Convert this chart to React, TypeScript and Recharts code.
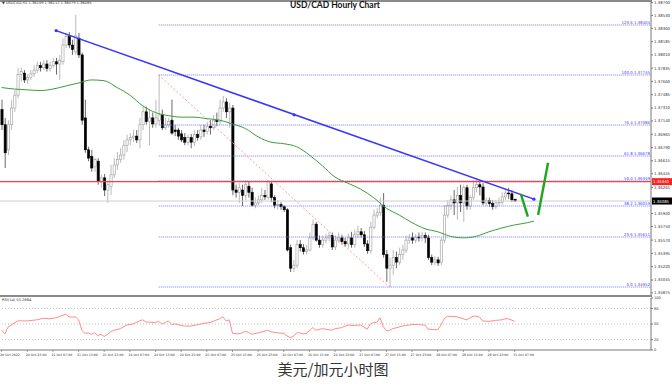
import React from 'react';
import {
  ComposedChart,
  Bar,
  Line,
  XAxis,
  YAxis,
  ReferenceLine,
  ReferenceDot,
} from 'recharts';

// hourly candles [open, high, low, close], bar 0 = 20 Oct 2022 15:00
const candles = [
  [1.3729, 1.3742, 1.3702, 1.3709], // 0
  [1.3709, 1.3718, 1.3652, 1.3672],
  [1.3676, 1.3715, 1.3669, 1.3709],
  [1.3709, 1.3742, 1.3702, 1.3731],
  [1.3731, 1.3755, 1.3726, 1.3748],
  [1.3748, 1.3784, 1.3744, 1.3775], // 5
  [1.3775, 1.3784, 1.3766, 1.3779],
  [1.3777, 1.3781, 1.3764, 1.3768],
  [1.3768, 1.3776, 1.3763, 1.3771],
  [1.3771, 1.3781, 1.3768, 1.3776],
  [1.3776, 1.3787, 1.3772, 1.3781], // 10
  [1.3781, 1.3792, 1.3777, 1.3787],
  [1.3787, 1.3792, 1.3779, 1.3784],
  [1.3784, 1.3794, 1.3781, 1.3789],
  [1.3789, 1.3794, 1.3779, 1.3783],
  [1.3783, 1.3792, 1.3779, 1.3787], // 15
  [1.3787, 1.3797, 1.3784, 1.3792],
  [1.3792, 1.3797, 1.3775, 1.3789],
  [1.3789, 1.3801, 1.3768, 1.3794],
  [1.3792, 1.3823, 1.3788, 1.3814],
  [1.3814, 1.383, 1.381, 1.3825], // 20
  [1.3825, 1.3831, 1.381, 1.3814],
  [1.3814, 1.3821, 1.3801, 1.3808],
  [1.3805, 1.3854, 1.3801, 1.3826],
  [1.3823, 1.383, 1.3797, 1.3801],
  [1.3801, 1.3804, 1.3709, 1.3715], // 25
  [1.3718, 1.3742, 1.3672, 1.3676],
  [1.3676, 1.368, 1.3661, 1.3665],
  [1.3667, 1.3676, 1.3647, 1.3652],
  [1.3654, 1.3665, 1.3647, 1.3663],
  [1.3661, 1.3665, 1.363, 1.3634], // 30
  [1.3634, 1.3643, 1.3626, 1.3639],
  [1.3639, 1.3644, 1.3615, 1.3623],
  [1.3623, 1.3634, 1.3606, 1.363],
  [1.3628, 1.3656, 1.3616, 1.3643],
  [1.3643, 1.3665, 1.3639, 1.3656], // 35
  [1.3656, 1.3673, 1.365, 1.3663],
  [1.3663, 1.3678, 1.3659, 1.3669],
  [1.3669, 1.3689, 1.3663, 1.3682],
  [1.3682, 1.3696, 1.3673, 1.3689],
  [1.3689, 1.3698, 1.3682, 1.3692], // 40
  [1.3692, 1.3702, 1.3686, 1.3694],
  [1.3694, 1.3702, 1.3685, 1.3689],
  [1.3689, 1.3718, 1.3678, 1.3709],
  [1.3709, 1.3734, 1.3702, 1.3726],
  [1.3726, 1.3733, 1.3709, 1.3713], // 45
  [1.3713, 1.3729, 1.3682, 1.3718],
  [1.3718, 1.3725, 1.3705, 1.371],
  [1.371, 1.3742, 1.3705, 1.3718],
  [1.3715, 1.3775, 1.3709, 1.3722],
  [1.3722, 1.3729, 1.3702, 1.3705], // 50
  [1.3705, 1.3718, 1.3702, 1.3709],
  [1.3709, 1.3718, 1.3705, 1.3713],
  [1.3715, 1.3742, 1.3696, 1.3698],
  [1.3702, 1.3709, 1.3694, 1.37],
  [1.3702, 1.3705, 1.3689, 1.3694], // 55
  [1.3697, 1.3702, 1.3686, 1.3689],
  [1.3692, 1.3698, 1.3682, 1.3686],
  [1.3686, 1.3696, 1.3682, 1.3692],
  [1.3692, 1.3697, 1.3678, 1.3686],
  [1.3686, 1.3702, 1.3681, 1.3696], // 60
  [1.3696, 1.3702, 1.3688, 1.3692],
  [1.3693, 1.3709, 1.3689, 1.3702],
  [1.3702, 1.3709, 1.3693, 1.37],
  [1.37, 1.3713, 1.3696, 1.3707],
  [1.3707, 1.3715, 1.3696, 1.3705], // 65
  [1.3705, 1.3722, 1.3702, 1.3715],
  [1.3715, 1.3725, 1.3707, 1.3713],
  [1.3713, 1.3742, 1.3709, 1.3731],
  [1.3731, 1.3747, 1.3726, 1.3739],
  [1.3739, 1.3744, 1.3718, 1.3726], // 70
  [1.3726, 1.3738, 1.3705, 1.3731],
  [1.3731, 1.3735, 1.3616, 1.3623],
  [1.3623, 1.363, 1.3613, 1.362],
  [1.362, 1.3632, 1.3606, 1.3626],
  [1.3623, 1.363, 1.3602, 1.3616], // 75
  [1.3616, 1.3636, 1.361, 1.363],
  [1.3628, 1.3634, 1.3613, 1.362],
  [1.362, 1.3626, 1.3601, 1.3603],
  [1.3603, 1.3613, 1.3599, 1.3606],
  [1.3606, 1.3616, 1.3603, 1.361], // 80
  [1.361, 1.3626, 1.3606, 1.3616],
  [1.3616, 1.3623, 1.361, 1.3614],
  [1.3613, 1.3636, 1.361, 1.3634],
  [1.3631, 1.3634, 1.3607, 1.3613],
  [1.3613, 1.3616, 1.3599, 1.3603], // 85
  [1.3603, 1.361, 1.3597, 1.3604],
  [1.3604, 1.3607, 1.3597, 1.3601],
  [1.3601, 1.3603, 1.3594, 1.3597],
  [1.3597, 1.3599, 1.3542, 1.3544],
  [1.3547, 1.3551, 1.3515, 1.352], // 90
  [1.352, 1.3531, 1.3515, 1.3524],
  [1.3524, 1.3557, 1.352, 1.3551],
  [1.3551, 1.3557, 1.3542, 1.3547],
  [1.3547, 1.3552, 1.3538, 1.3542],
  [1.3542, 1.3551, 1.3538, 1.3544], // 95
  [1.3544, 1.3567, 1.3542, 1.356],
  [1.356, 1.3584, 1.3557, 1.3578],
  [1.3578, 1.3581, 1.3555, 1.3557],
  [1.3557, 1.3563, 1.3547, 1.3551],
  [1.3551, 1.3563, 1.3547, 1.3557], // 100
  [1.3557, 1.3565, 1.3553, 1.356],
  [1.356, 1.3568, 1.3555, 1.3563],
  [1.3563, 1.3567, 1.3544, 1.3548],
  [1.3548, 1.3563, 1.3544, 1.3557],
  [1.3557, 1.3567, 1.3553, 1.356], // 105
  [1.356, 1.3564, 1.3551, 1.3555],
  [1.3555, 1.356, 1.3548, 1.3552],
  [1.3552, 1.3565, 1.3547, 1.356],
  [1.356, 1.3568, 1.3547, 1.3551],
  [1.3551, 1.3571, 1.3547, 1.3564], // 110
  [1.3564, 1.3576, 1.356, 1.3568],
  [1.3568, 1.3573, 1.356, 1.3564],
  [1.3564, 1.3569, 1.3548, 1.3552],
  [1.3552, 1.3557, 1.3539, 1.3543],
  [1.3543, 1.3581, 1.3539, 1.3574], // 115
  [1.3574, 1.3597, 1.3571, 1.359],
  [1.359, 1.3599, 1.3586, 1.3593],
  [1.3593, 1.3613, 1.3589, 1.3603],
  [1.3603, 1.3619, 1.3534, 1.3538],
  [1.3538, 1.3544, 1.3502, 1.352], // 120
  [1.352, 1.3534, 1.3495, 1.3524],
  [1.3524, 1.3544, 1.3511, 1.3534],
  [1.3534, 1.3542, 1.352, 1.3528],
  [1.3528, 1.3547, 1.3524, 1.3538],
  [1.3538, 1.3551, 1.3531, 1.3544], // 125
  [1.3544, 1.3563, 1.354, 1.3557],
  [1.3557, 1.3565, 1.3552, 1.356],
  [1.356, 1.3567, 1.3552, 1.3557],
  [1.3557, 1.3565, 1.3553, 1.3561],
  [1.3561, 1.3567, 1.3555, 1.356], // 130
  [1.356, 1.3568, 1.3556, 1.3563],
  [1.3563, 1.3567, 1.3553, 1.356],
  [1.356, 1.3564, 1.3531, 1.3534],
  [1.3534, 1.3538, 1.3524, 1.3528],
  [1.3528, 1.3536, 1.3524, 1.3531], // 135
  [1.3531, 1.3535, 1.3523, 1.3527],
  [1.3528, 1.356, 1.3524, 1.3557],
  [1.3557, 1.3603, 1.3553, 1.359],
  [1.359, 1.361, 1.3586, 1.3603],
  [1.3603, 1.3616, 1.3597, 1.361], // 140
  [1.361, 1.3623, 1.359, 1.3606],
  [1.3606, 1.3627, 1.3584, 1.3616],
  [1.3616, 1.363, 1.3594, 1.3606],
  [1.3606, 1.363, 1.3581, 1.3626],
  [1.3626, 1.363, 1.3597, 1.3602], // 145
  [1.3602, 1.3616, 1.3597, 1.3613],
  [1.3613, 1.3636, 1.361, 1.3626],
  [1.3626, 1.3639, 1.362, 1.363],
  [1.363, 1.3636, 1.3616, 1.3627],
  [1.3627, 1.3632, 1.3603, 1.3606], // 150
  [1.3606, 1.3613, 1.3602, 1.3609],
  [1.3609, 1.3613, 1.3601, 1.3605],
  [1.3605, 1.361, 1.3597, 1.3601],
  [1.3601, 1.361, 1.3598, 1.3606],
  [1.3606, 1.3613, 1.3602, 1.3607], // 155
  [1.3607, 1.362, 1.3603, 1.3614],
  [1.3614, 1.3626, 1.361, 1.3619],
  [1.3619, 1.3626, 1.3611, 1.3618],
  [1.3618, 1.3623, 1.3607, 1.361],
  [1.36109, 1.36112, 1.36079, 1.36085], // 160
];

// green moving average [bar, value]
const maPoints = [
  [0, 1.3758], [4, 1.3756], [8, 1.3755], [12, 1.3754], [16, 1.3756], [20, 1.376],
  [24, 1.3764], [28, 1.3768], [32, 1.3767], [36, 1.3758], [40, 1.3748], [44, 1.3734],
  [48, 1.3725], [52, 1.3721], [56, 1.3719], [60, 1.3719], [64, 1.3717], [68, 1.3715],
  [72, 1.371], [76, 1.3704], [80, 1.3693], [84, 1.3686], [88, 1.3684], [92, 1.368],
  [96, 1.3669], [100, 1.3655], [104, 1.364], [108, 1.3632], [112, 1.3624], [116, 1.3613],
  [120, 1.3599], [124, 1.359], [128, 1.358], [132, 1.3572], [136, 1.3568], [140, 1.3562],
  [144, 1.356], [148, 1.3562], [152, 1.3568], [156, 1.3573], [160, 1.3577], [164, 1.358],
  [166, 1.3582],
];

// RSI(14) [bar, value]
const rsiPoints = [
  [0, 38], [1, 31], [2, 44], [4, 52], [5, 56], [8, 56], [11, 58], [13, 61], [15, 60],
  [17, 62], [18, 64], [20, 69], [21, 64], [22, 63], [23, 64], [24, 58], [25, 38], [26, 32],
  [27, 33], [28, 30], [29, 33], [30, 28], [31, 30], [32, 26], [33, 30], [34, 35], [35, 38],
  [37, 41], [39, 48], [41, 50], [43, 56], [44, 58], [45, 54], [48, 53], [49, 55], [50, 50],
  [52, 56], [53, 49], [54, 50], [57, 46], [59, 46], [62, 50], [65, 53], [68, 60], [69, 64],
  [70, 56], [71, 58], [72, 32], [74, 31], [75, 33], [76, 36], [77, 34], [78, 30], [80, 33],
  [83, 38], [84, 35], [86, 33], [88, 32], [89, 27], [90, 24], [91, 26], [92, 33], [93, 33],
  [94, 31], [95, 32], [96, 37], [97, 43], [98, 38], [100, 41], [103, 38], [104, 41],
  [106, 43], [108, 48], [110, 47], [112, 48], [113, 44], [114, 40], [115, 50], [116, 53],
  [117, 53], [118, 62], [119, 45], [120, 37], [121, 38], [122, 41], [125, 46], [128, 49],
  [130, 49], [132, 48], [133, 40], [135, 39], [136, 39], [137, 48], [138, 60], [139, 65],
  [142, 64], [145, 58], [147, 65], [148, 65], [149, 63], [150, 56], [152, 55], [154, 57],
  [156, 58], [157, 60], [158, 60], [160, 55.2864],
];

const dateTicks = [0, 8, 16, 24, 32, 40, 48, 56, 64, 72, 80, 88, 96, 104, 112, 120, 128, 136, 144, 152, 160];
const dateLabels = [
  '20 Oct 2022', '20 Oct 23:00', '21 Oct 07:00', '21 Oct 15:00', '21 Oct 23:00',
  '24 Oct 07:00', '24 Oct 15:00', '24 Oct 23:00', '25 Oct 07:00', '25 Oct 15:00',
  '25 Oct 23:00', '26 Oct 07:00', '26 Oct 15:00', '26 Oct 23:00', '27 Oct 07:00',
  '27 Oct 15:00', '27 Oct 23:00', '28 Oct 07:00', '28 Oct 15:00', '28 Oct 23:00',
  '31 Oct 07:00',
];

const priceTicks = [
  1.34875, 1.35045, 1.3522, 1.35395, 1.3557, 1.3575, 1.3592, 1.36265, 1.36445,
  1.36615, 1.3679, 1.36965, 1.3714, 1.3731, 1.37485, 1.3766, 1.37835, 1.3801, 1.38185,
  1.3836, 1.3853, 1.387,
];
const rsiTicks = [0, 20, 50, 80, 100];

const fibRatios = ['123.6', '100.0', '76.4', '61.8', '50.0', '38.2', '23.6', '0.0'];
const fibPrices = [1.38404, 1.37745, 1.37086, 1.36678, 1.36349, 1.36019, 1.35611, 1.34952];
const fibStartBar = 49;
const fibEndBar = 121;

const redLevel = 1.3634;
const lastPrice = 1.36085;

const trendLine = [{ x: 17, y: 1.3833 }, { x: 166, y: 1.3611 }];
const trendMid = { x: 91.2, y: 1.3722 };
const arrowDown = [{ x: 161.9, y: 1.3618 }, { x: 164.1, y: 1.3588 }];
const arrowUp = [{ x: 167.3, y: 1.359 }, { x: 170.4, y: 1.3659 }];

const X_DOMAIN = [-0.5, 202.5];
const tiny = 'DejaVu Sans, sans-serif';

const maMap = new Map(maPoints.map(([i, v]) => [i, v]));
const rsiMap = new Map(rsiPoints.map(([i, v]) => [i, v]));
const rows = Array.from({ length: 167 }, (_, i) => {
  const k = candles[i];
  return {
    i,
    o: k ? k[0] : null,
    h: k ? k[1] : null,
    l: k ? k[2] : null,
    c: k ? k[3] : null,
    range: k ? [k[2], k[1]] : null,
    ma: maMap.has(i) ? maMap.get(i) : null,
    rsi: rsiMap.has(i) ? rsiMap.get(i) : null,
  };
});

function Candle(props: any) {
  const { x, y, width, height, payload } = props;
  if (!payload || payload.c == null || x == null) return null;
  const { o, h, l, c } = payload;
  const top = Math.min(y, y + height);
  const span = Math.abs(height);
  const k = h - l > 0 ? span / (h - l) : 0;
  const cx = x + width / 2;
  const yO = top + (h - o) * k;
  const yC = top + (h - c) * k;
  const up = c >= o;
  const bodyTop = Math.min(yO, yC);
  const bodyH = Math.max(0.8, Math.abs(yO - yC));
  return (
    <g>
      <line x1={cx} x2={cx} y1={top} y2={top + span} stroke={up ? '#a8a8a8' : '#444'} strokeWidth={0.8} />
      <rect
        x={cx - 1.1}
        y={bodyTop}
        width={2.2}
        height={bodyH}
        fill={up ? '#fff' : '#000'}
        stroke={up ? '#9c9c9c' : '#000'}
        strokeWidth={0.6}
      />
    </g>
  );
}

function FibLabel(props: any) {
  const { viewBox, text } = props;
  if (!viewBox) return null;
  return (
    <text x={viewBox.x + viewBox.width - 1} y={viewBox.y - 1} textAnchor="end" fontSize={3.9} fill="#3c3cff" fontFamily={tiny}>
      {text}
    </text>
  );
}

function AxisBox(props: any) {
  const { viewBox, text, bg } = props;
  if (!viewBox) return null;
  const x = viewBox.x + viewBox.width;
  const y = viewBox.y;
  return (
    <g>
      <rect x={x + 1} y={y - 3.5} width={20} height={7} fill={bg} />
      <text x={x + 2} y={y + 1.5} fontSize={3.9} fill="#fff" fontFamily={tiny}>
        {text}
      </text>
    </g>
  );
}

function DateTick(props: any) {
  const { x, y, payload } = props;
  const idx = dateTicks.indexOf(payload.value);
  return (
    <g>
      <line x1={x} x2={x} y1={y - 2} y2={y} stroke="#666" strokeWidth={0.6} />
      <text x={x - 1.5} y={y + 4} fontSize={3.2} fill="#333" fontFamily={tiny}>
        {dateLabels[idx]}
      </text>
    </g>
  );
}

export default function App() {
  return (
    <div style={{ position: 'absolute', left: 0, top: 0, width: 672, height: 391, background: '#fff', overflow: 'hidden' }}>
      <div style={{ position: 'absolute', left: 0, top: 0 }}>
        <ComposedChart width={672} height={296} data={rows} margin={{ top: 1, right: 0, bottom: 1, left: 0 }}>
          <XAxis dataKey="i" type="number" domain={X_DOMAIN} allowDataOverflow hide />
          <YAxis
            orientation="right"
            width={21}
            domain={[1.34847, 1.3872]}
            allowDataOverflow
            ticks={priceTicks}
            interval={0}
            tickFormatter={(v: number) => v.toFixed(5)}
            tick={{ fontSize: 3.9, fill: '#333', fontFamily: tiny }}
            tickSize={2}
            tickMargin={1}
            axisLine={{ stroke: '#777' }}
            tickLine={{ stroke: '#777' }}
          />
          {fibPrices.map((p, n) => (
            <ReferenceLine
              key={fibRatios[n]}
              segment={[{ x: fibStartBar, y: p }, { x: X_DOMAIN[1], y: p }]}
              stroke="#7676ff"
              strokeDasharray="1 1"
              ifOverflow="visible"
              label={<FibLabel text={`${fibRatios[n]} ${p.toFixed(5)}`} />}
            />
          ))}
          <ReferenceLine
            segment={[{ x: fibStartBar, y: fibPrices[1] }, { x: fibEndBar, y: fibPrices[7] }]}
            stroke="#ff9a9a"
            strokeDasharray="2 2"
            ifOverflow="visible"
          />
          <ReferenceLine y={lastPrice} stroke="#cfcfcf" label={<AxisBox text={lastPrice.toFixed(5)} bg="#000" />} />
          <ReferenceLine y={redLevel} stroke="#ff3b3b" strokeWidth={1.3} label={<AxisBox text={redLevel.toFixed(5)} bg="#ff2020" />} />
          <Bar dataKey="range" shape={<Candle />} barSize={2} isAnimationActive={false} />
          <Line type="monotone" dataKey="ma" stroke="#3a9d3a" strokeWidth={1} dot={false} connectNulls isAnimationActive={false} />
          <ReferenceLine segment={trendLine} stroke="#3535ff" strokeWidth={1.5} ifOverflow="visible" />
          <ReferenceDot x={trendLine[0].x} y={trendLine[0].y} r={1.6} fill="#3535ff" stroke="none" />
          <ReferenceDot x={trendMid.x} y={trendMid.y} r={1.6} fill="#3535ff" stroke="none" />
          <ReferenceDot x={trendLine[1].x} y={trendLine[1].y} r={1.6} fill="#3535ff" stroke="none" />
          <ReferenceLine segment={arrowDown} stroke="#1fa51f" strokeWidth={2.4} ifOverflow="visible" />
          <ReferenceLine segment={arrowUp} stroke="#1fa51f" strokeWidth={2.4} ifOverflow="visible" />
        </ComposedChart>
      </div>
      <div style={{ position: 'absolute', left: 0, top: 296 }}>
        <ComposedChart width={672} height={66} data={rows} margin={{ top: 2, right: 0, bottom: 0, left: 0 }}>
          <XAxis
            dataKey="i"
            type="number"
            domain={X_DOMAIN}
            allowDataOverflow
            ticks={dateTicks}
            interval={0}
            tick={<DateTick />}
            tickLine={false}
            tickSize={2}
            tickMargin={0}
            height={12}
            axisLine={{ stroke: '#777' }}
          />
          <YAxis
            orientation="right"
            width={21}
            domain={[0, 100]}
            ticks={rsiTicks}
            interval={0}
            tick={{ fontSize: 3.6, fill: '#333', fontFamily: tiny }}
            tickSize={2}
            tickMargin={1}
            axisLine={{ stroke: '#777' }}
            tickLine={{ stroke: '#777' }}
          />
          <ReferenceLine y={80} stroke="#bdbdbd" strokeDasharray="1 2" />
          <ReferenceLine y={50} stroke="#bdbdbd" strokeDasharray="1 2" />
          <ReferenceLine y={20} stroke="#bdbdbd" strokeDasharray="1 2" />
          <Line type="linear" dataKey="rsi" stroke="#ff8c8c" strokeWidth={1} dot={false} connectNulls isAnimationActive={false} />
        </ComposedChart>
      </div>
      {/* panel frames */}
      <div style={{ position: 'absolute', left: 0, top: 0, width: 652, height: 1.5, background: '#8a8a8a' }} />
      <div style={{ position: 'absolute', left: 0, top: 294.5, width: 652, height: 2, background: '#8a8a8a' }} />
      <div style={{ position: 'absolute', left: 2, top: 1, fontSize: 3.6, fontFamily: tiny, color: '#333', lineHeight: '5px', whiteSpace: 'nowrap' }}>
        ▼ USDCAD,H1 1.36109 1.36112 1.36079 1.36085
      </div>
      <div style={{ position: 'absolute', left: 2, top: 298, fontSize: 3.6, fontFamily: tiny, color: '#333', lineHeight: '5px', whiteSpace: 'nowrap' }}>
        RSI(14) 55.2864
      </div>
      <div style={{ position: 'absolute', left: 0, top: 0, width: 670, textAlign: 'center', fontFamily: 'Lato, sans-serif', fontWeight: 700, fontSize: 8.5, lineHeight: '10px', color: '#111' }}>
        USD/CAD Hourly Chart
      </div>
      <div style={{ position: 'absolute', left: 0, top: 360, width: 666, textAlign: 'center', fontFamily: '"Noto Sans CJK SC", sans-serif', fontSize: 15, lineHeight: '17px', color: '#333' }}>
        美元/加元小时图
      </div>
    </div>
  );
}
